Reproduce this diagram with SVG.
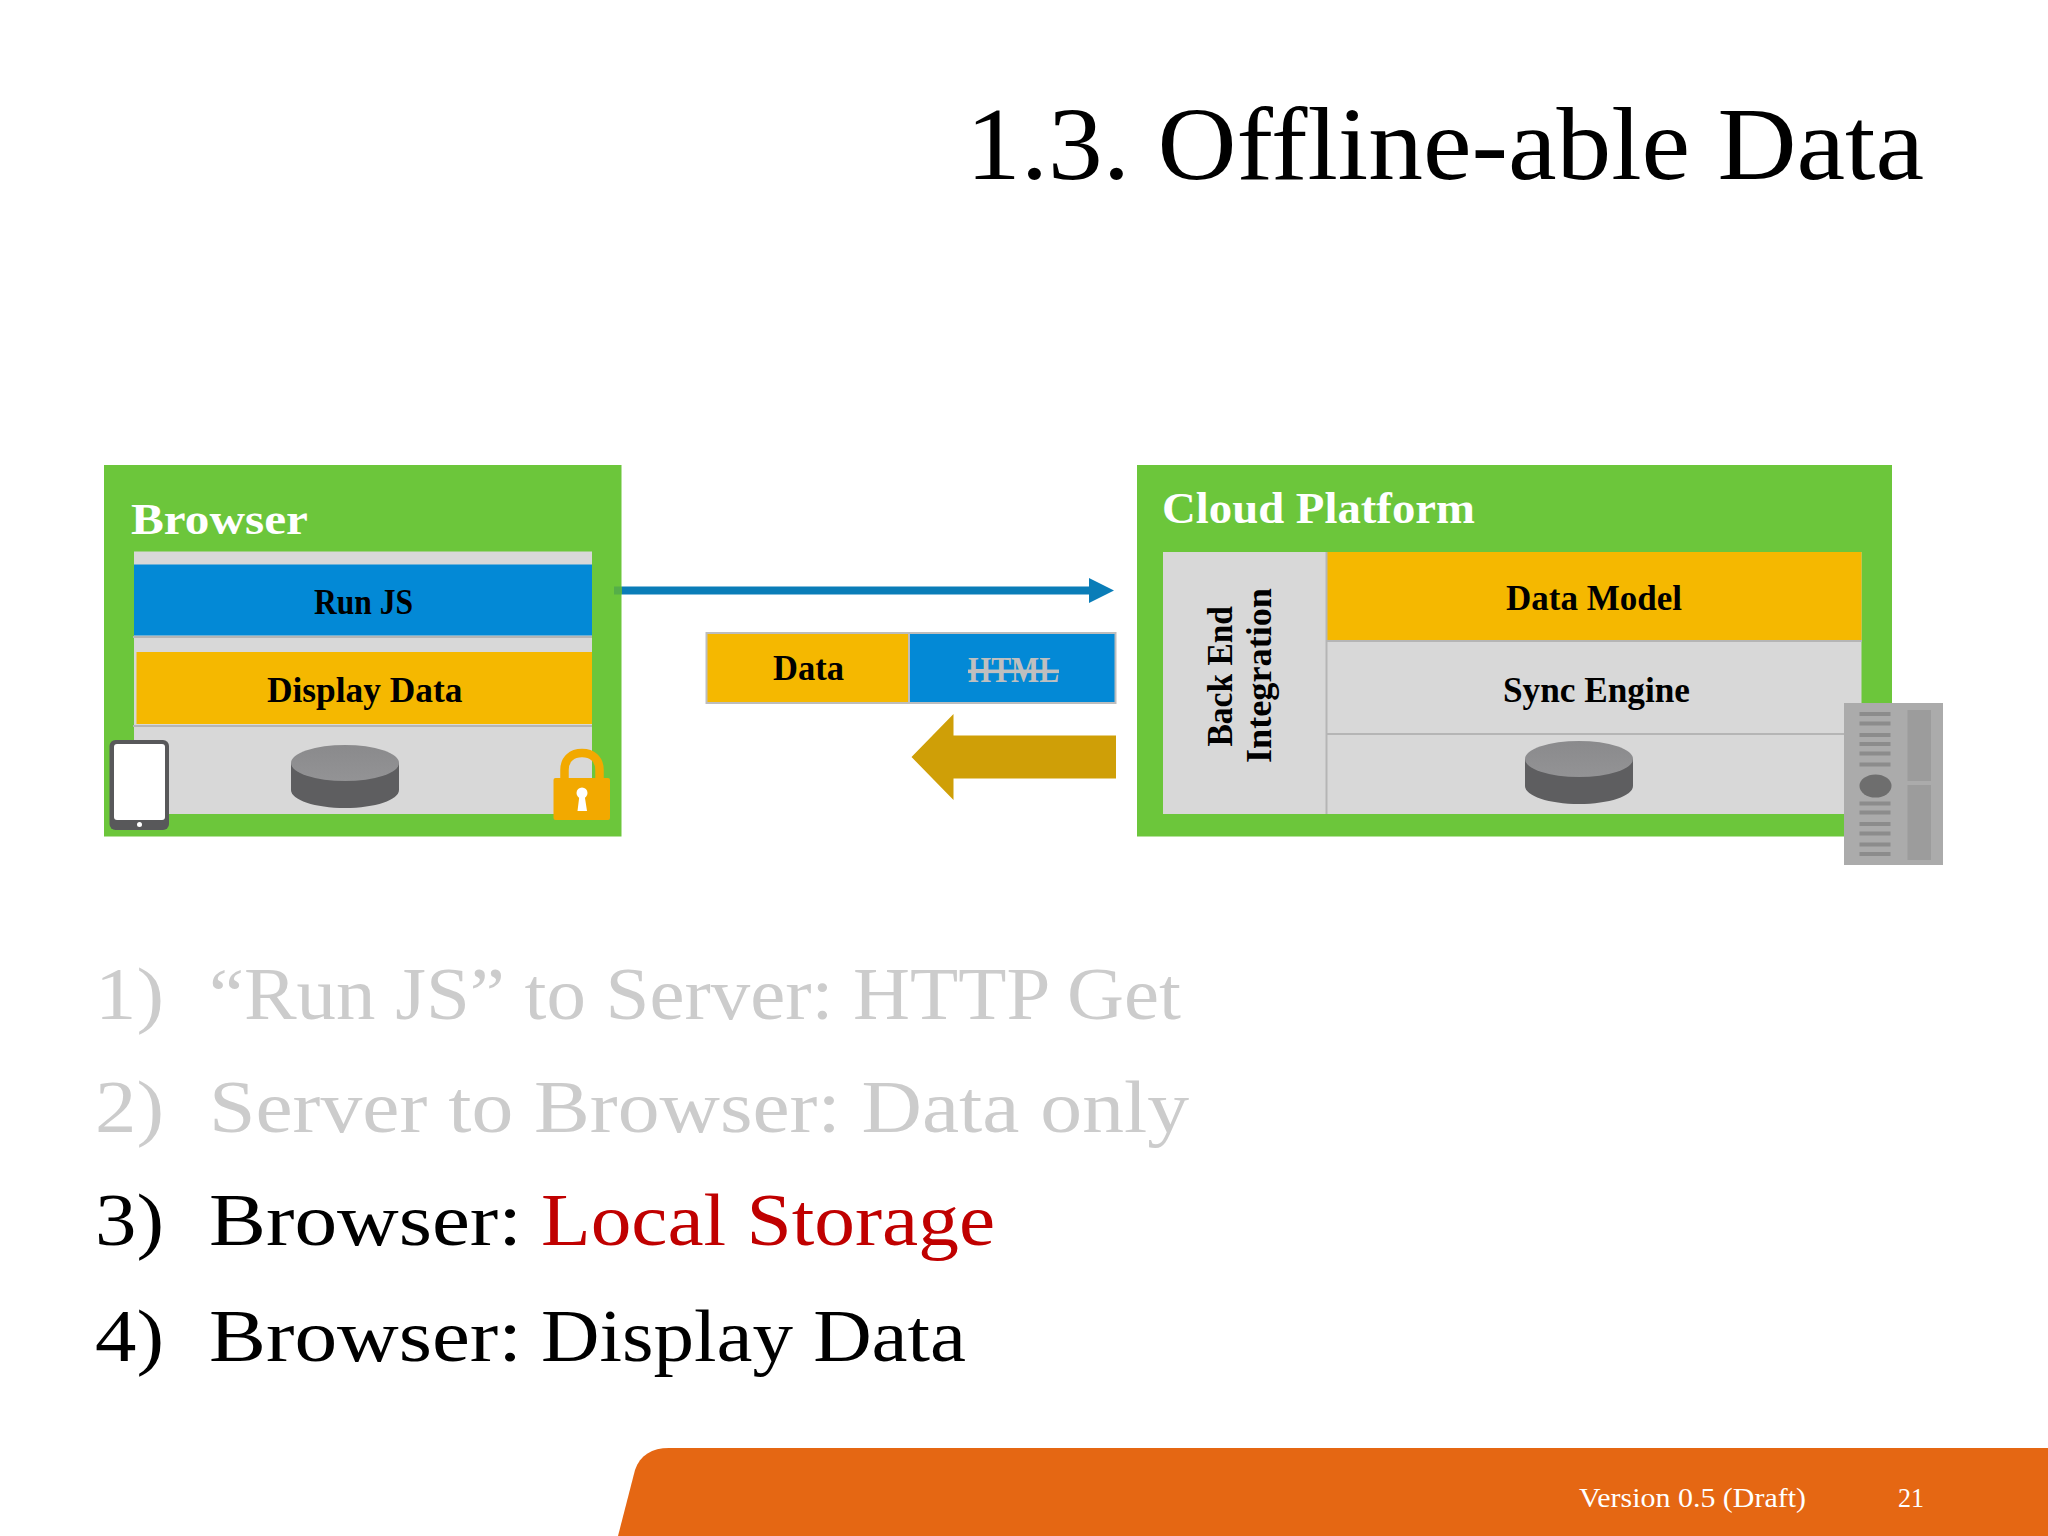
<svg xmlns="http://www.w3.org/2000/svg" width="2048" height="1536" viewBox="0 0 2048 1536">
<style>
text{font-family:"Liberation Serif","Noto Serif",serif;fill:#000}
.lbl{font-size:36px;font-weight:bold}
.hd{font-size:45px;font-weight:bold;fill:#fff}
.li{font-size:75px}
.dim{fill:#CCCCCC}
.green{fill:#6CC63B}
.gray{fill:#D8D8D8}
.yel{fill:#F5B800}
.blue{fill:#0389D6}
.sep{stroke:#B5B5B5;stroke-width:2;fill:none}
.bar{fill:#8C8C8C}
.foot{font-size:28px;fill:#fff}
</style>
<defs>
<linearGradient id="cylTop" x1="0" y1="0" x2="0" y2="1"><stop offset="0" stop-color="#8A8A8C"/><stop offset="1" stop-color="#939395"/></linearGradient>
<g id="cyl">
<path d="M0 18V45C0 55 24 63 54 63S108 55 108 45V18Z" fill="#5E5E60"/>
<ellipse cx="54" cy="18" rx="54" ry="18" fill="url(#cylTop)"/>
</g>
</defs>
<rect width="2048" height="1536" fill="#fff"/>

<g id="title"><text x="966" y="179" font-size="103" textLength="958" lengthAdjust="spacingAndGlyphs">1.3. Offline-able Data</text></g>

<g id="browser">
<rect class="green" x="104" y="465" width="517.500" height="371.500"/>
<text class="hd" x="131" y="534" textLength="177" lengthAdjust="spacingAndGlyphs">Browser</text>
<rect class="gray" x="134" y="551.500" width="458" height="262.500"/>
<rect class="blue" x="134" y="564.500" width="458" height="71"/>
<rect class="yel" x="136.500" y="652" width="455.500" height="72"/>
<path class="sep" d="M133 637H592M133 726H592"/>
<text class="lbl" x="314" y="614" textLength="99" lengthAdjust="spacingAndGlyphs">Run JS</text>
<text class="lbl" x="267" y="701.500" textLength="195.500" lengthAdjust="spacingAndGlyphs">Display Data</text>
<use href="#cyl" x="291" y="745"/>
</g>

<g id="tablet">
<rect x="109.500" y="740" width="59.500" height="90" rx="6" fill="#58585A"/>
<rect x="114" y="744" width="51" height="76" rx="3" fill="#fff"/>
<circle cx="139.500" cy="824.500" r="2.500" fill="#fff"/>
</g>

<g id="lock">
<path d="M564.500 780V770C564.500 759 572 753 582 753S599.500 759 599.500 770V780" fill="none" stroke="#F2A900" stroke-width="8.500"/>
<rect x="553.500" y="778" width="56.500" height="42" rx="2" fill="#F2A900"/>
<circle cx="582" cy="793" r="5.500" fill="#fff"/>
<path d="M579.500 795H584.500L587 811H577.500Z" fill="#fff"/>
</g>

<g id="connectors">
<rect x="614" y="586.500" width="8" height="8" fill="#55AE48"/>
<path d="M622 586.500H1089V578L1114 590.500L1089 603V594.500H622Z" fill="#0A7DB8"/>
<path d="M1116 735.500H953.500V714L911.500 757L953.500 800V778.500H1116Z" fill="#CF9F07"/>
</g>

<g id="data-packet">
<rect class="yel" x="706.500" y="633" width="202.500" height="70" stroke="#BDBDBD" stroke-width="2"/>
<rect class="blue" x="909" y="633" width="206.500" height="70" stroke="#BDBDBD" stroke-width="2"/>
<text class="lbl" x="773" y="680" textLength="71" lengthAdjust="spacingAndGlyphs">Data</text>
<text class="lbl" x="968" y="682" textLength="91" lengthAdjust="spacingAndGlyphs" style="fill:#BFBFBF;text-decoration:line-through">HTML</text>
</g>

<g id="cloud">
<rect class="green" x="1137" y="465" width="755" height="371.500"/>
<text class="hd" x="1162" y="523" textLength="313" lengthAdjust="spacingAndGlyphs">Cloud Platform</text>
<rect class="gray" x="1163" y="552" width="698.500" height="262"/>
<rect class="yel" x="1327" y="552" width="534.500" height="88"/>
<path class="sep" d="M1326.500 552V814M1327 641H1862M1327 734H1862"/>
<text class="lbl" x="1506" y="609.500" textLength="176" lengthAdjust="spacingAndGlyphs">Data Model</text>
<text class="lbl" x="1503" y="702" textLength="187" lengthAdjust="spacingAndGlyphs">Sync Engine</text>
<text class="lbl" transform="translate(1232 746.500) rotate(-90)" textLength="140.500" lengthAdjust="spacingAndGlyphs">Back End</text>
<text class="lbl" transform="translate(1271 763) rotate(-90)" textLength="175" lengthAdjust="spacingAndGlyphs">Integration</text>
<use href="#cyl" x="1525" y="741"/>
</g>

<g id="server">
<rect x="1844" y="703" width="99" height="162" fill="#ABABAB"/>
<path class="bar" d="M1859.500 712h31v4h-31zM1859.500 721.500h31v4h-31zM1859.500 733h31v4h-31zM1859.500 742h31v4h-31zM1859.500 751.500h31v4h-31zM1859.500 762.500h31v4h-31zM1859.500 801.500h31v4h-31zM1859.500 810.500h31v4h-31zM1859.500 822h31v4h-31zM1859.500 831.500h31v4h-31zM1859.500 842.500h31v4h-31zM1859.500 852h31v4h-31z"/>
<ellipse cx="1875.500" cy="786" rx="16" ry="11.500" fill="#6E6E6E"/>
<rect x="1907.500" y="710" width="23.500" height="71" fill="#9C9C9C"/>
<rect x="1907.500" y="785" width="23.500" height="75" fill="#9C9C9C"/>
</g>

<g id="list">
<text class="li dim" x="95" y="1019" textLength="69" lengthAdjust="spacingAndGlyphs">1)</text>
<text class="li dim" x="209" y="1019" textLength="972" lengthAdjust="spacingAndGlyphs">“Run JS” to Server: HTTP Get</text>
<text class="li dim" x="95" y="1132" textLength="69" lengthAdjust="spacingAndGlyphs">2)</text>
<text class="li dim" x="209" y="1132" textLength="980" lengthAdjust="spacingAndGlyphs">Server to Browser: Data only</text>
<text class="li" x="95" y="1245" textLength="69" lengthAdjust="spacingAndGlyphs">3)</text>
<text class="li" x="209" y="1245" textLength="313" lengthAdjust="spacingAndGlyphs">Browser:</text>
<text class="li" x="541" y="1245" textLength="454" lengthAdjust="spacingAndGlyphs" style="fill:#C00000">Local Storage</text>
<text class="li" x="95" y="1361" textLength="69" lengthAdjust="spacingAndGlyphs">4)</text>
<text class="li" x="209" y="1361" textLength="313" lengthAdjust="spacingAndGlyphs">Browser:</text>
<text class="li" x="541" y="1361" textLength="425" lengthAdjust="spacingAndGlyphs">Display Data</text>
</g>

<g id="footer">
<path d="M618 1536L635 1470C640 1455 652 1448 669 1448H2048V1536Z" fill="#E56713"/>
<text class="foot" x="1579" y="1507" textLength="227" lengthAdjust="spacingAndGlyphs">Version 0.5 (Draft)</text>
<text class="foot" x="1898" y="1507" textLength="26" lengthAdjust="spacingAndGlyphs">21</text>
</g>
</svg>
